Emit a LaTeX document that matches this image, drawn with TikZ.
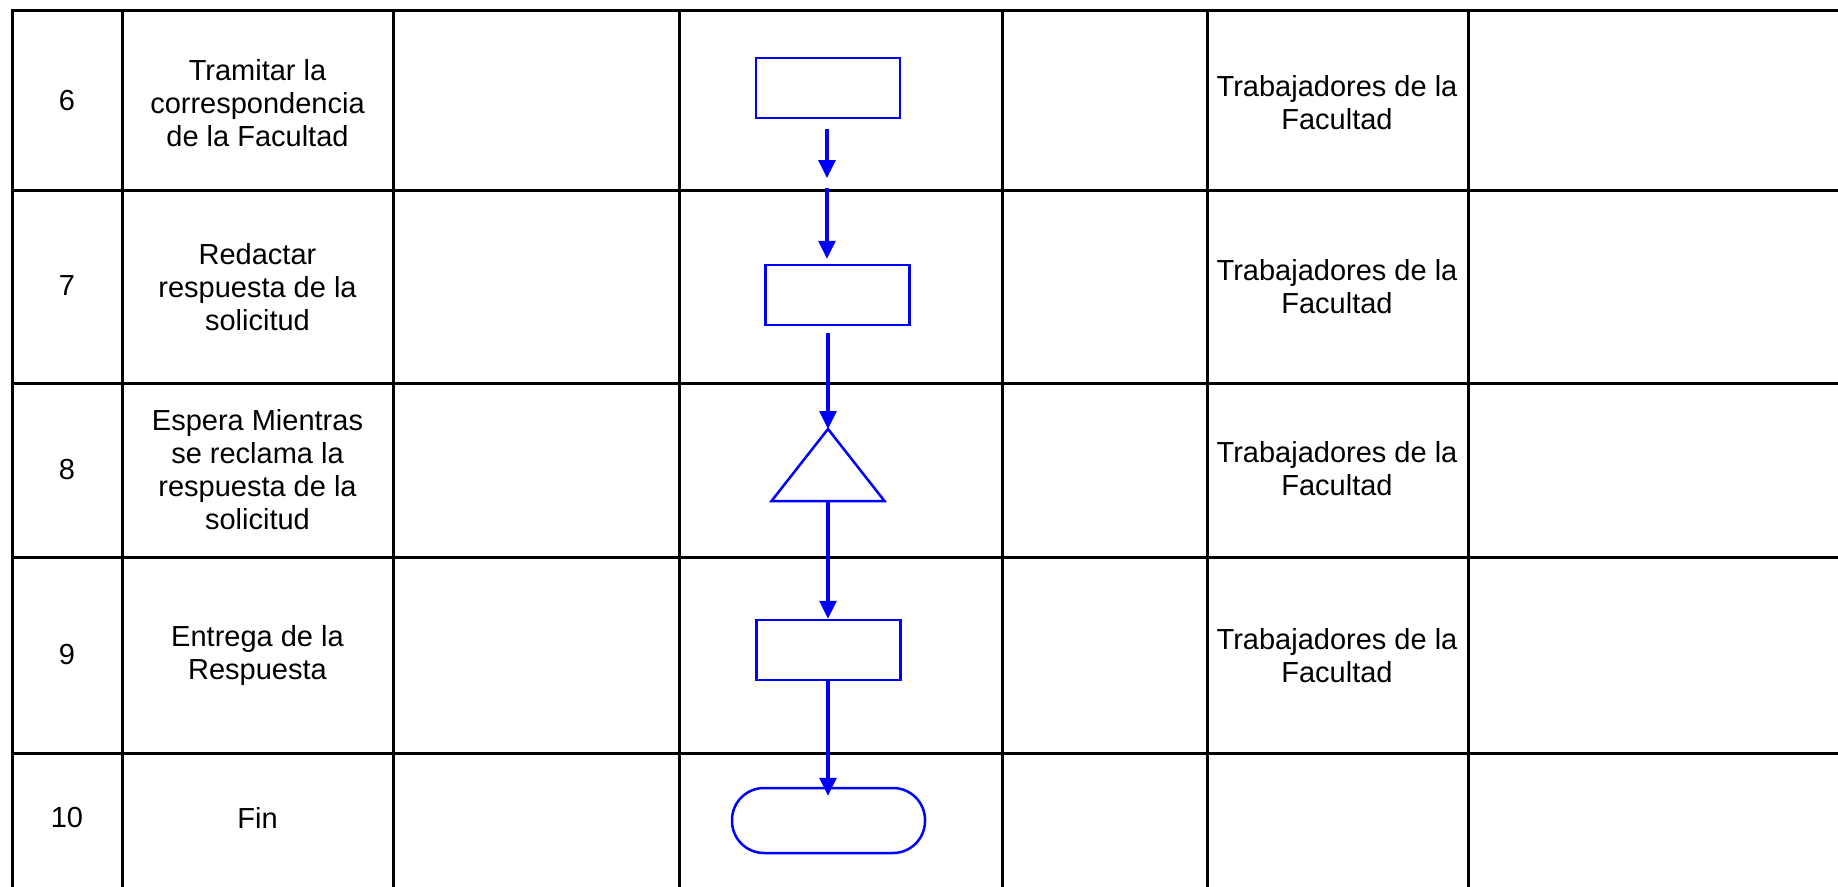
\documentclass[tikz,border=0pt]{standalone}
\usepackage{fontspec}
\setmainfont{Liberation Sans}
\usetikzlibrary{arrows.meta}
\definecolor{flowblue}{RGB}{0,0,255}
\tikzset{
  gridline/.style={line width=3pt, black, line cap=rect},
  celltext/.style={align=center, inner sep=0pt, font=\fontsize{29}{33}\selectfont},
  procbox/.style={draw=flowblue, line width=2.5pt, rectangle, minimum width=144pt, minimum height=60pt, inner sep=0pt},
  termbox/.style={draw=flowblue, line width=2.5pt, rectangle, rounded corners=32pt, minimum width=193pt, minimum height=65pt, inner sep=0pt},
  flow/.style={draw=flowblue, line width=3.2pt, -{Triangle[length=18pt,width=17pt]}},
}
\begin{document}
\begin{tikzpicture}[x=1pt,y=-1pt]
\useasboundingbox (0,0) rectangle (1838,886);
% grid
\foreach \yy in {10,190,383,557,753} \draw[gridline] (12,\yy) -- (1840,\yy);
\foreach \xx in {12,122,393,679,1002,1207,1468} \draw[gridline] (\xx,10) -- (\xx,890);
% column 1
\node[celltext] (n6) at (67,101) {6};
\node[celltext] (n7) at (67,286) {7};
\node[celltext] (n8) at (67,470) {8};
\node[celltext] (n9) at (67,655) {9};
\node[celltext] (n10) at (67,818) {10};
% column 2
\node[celltext] (a6) at (257.5,103) {Tramitar la\\correspondencia\\de la Facultad};
\node[celltext] (a7) at (257.5,287) {Redactar\\respuesta de la\\solicitud};
\node[celltext] (a8) at (257.5,470) {Espera Mientras\\se reclama la\\respuesta de la\\solicitud};
\node[celltext] (a9) at (257.5,655) {Entrega de la\\Respuesta};
\node[celltext] (a10) at (257.5,818) {Fin};
% column 6
\node[celltext] (r6) at (1337,103) {Trabajadores de la\\Facultad};
\node[celltext] (r7) at (1337,287) {Trabajadores de la\\Facultad};
\node[celltext] (r8) at (1337,469) {Trabajadores de la\\Facultad};
\node[celltext] (r9) at (1337,656) {Trabajadores de la\\Facultad};
% flow shapes
\node[procbox] (b6) at (828,88) {};
\node[procbox] (b7) at (837.5,295) {};
\coordinate (t8a) at (828,429);
\coordinate (t8b) at (828,501);
\draw[flowblue, line width=2.5pt, line join=miter] (t8a) -- (884.5,501) -- (771.5,501) -- cycle;
\node[procbox] (b9) at (828.5,650) {};
\node[termbox] (e10) at (828.5,820.5) {};
\coordinate (m67) at (827,183);
% connectors
\draw[flow, shorten <=10pt, shorten >=5pt] (b6.south -| m67) -- (m67);
\draw[flow, shorten <=5pt, shorten >=5pt] (m67) -- (m67 |- b7.north);
\draw[flow, shorten <=7pt] (t8a |- b7.south) -- (t8a);
\draw[flow] (t8b) -- (t8b |- b9.north);
\draw[flow, shorten >=-9pt] (t8b |- b9.south) -- (t8b |- e10.north);
\end{tikzpicture}
\end{document}
